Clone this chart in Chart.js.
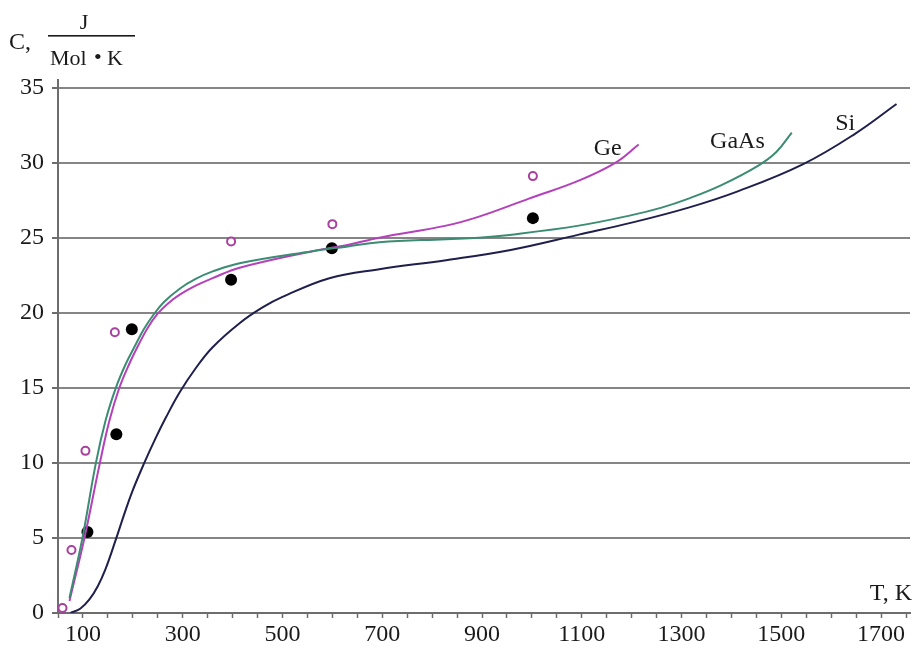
<!DOCTYPE html>
<html>
<head>
<meta charset="utf-8">
<script src="https://cdn.jsdelivr.net/npm/chart.js@4"></script>
<style>
  html, body { margin: 0; padding: 0; background: #fff; }
  #wrap { width: 916px; height: 648px; }
</style>
</head>
<body>
<div id="wrap"><canvas id="heatChart" width="916" height="648"></canvas></div>
<script>
// curves, T in K and C in J/(mol K)
const siT   = [75, 95, 113, 130, 145, 166, 182, 199, 223, 245, 266, 294, 326, 360, 414, 460, 500, 594, 694, 828, 960, 1094, 1200, 1314, 1414, 1544, 1647, 1731];
const siC   = [0, 0.3, 0.9, 1.8, 2.9, 4.9, 6.5, 8.1, 10, 11.6, 13.0, 14.7, 16.3, 17.7, 19.3, 20.35, 21.05, 22.3, 22.9, 23.5, 24.2, 25.2, 26.0, 27.0, 28.1, 29.9, 31.9, 33.9];
const gaasT = [73, 99, 126, 146, 166, 186, 206, 222, 240, 262, 294, 326, 360, 414, 560, 628, 694, 828, 894, 960, 1094, 1200, 1260, 1314, 1380, 1454, 1490, 1521];
const gaasC = [1.0, 5, 10, 12.9, 15, 16.6, 17.9, 18.9, 19.8, 20.7, 21.6, 22.25, 22.75, 23.3, 24.1, 24.4, 24.7, 24.9, 25.0, 25.2, 25.8, 26.5, 27.0, 27.6, 28.5, 29.8, 30.7, 32.0];
const geT   = [73, 103, 134, 153, 173, 193, 212, 230, 249, 270, 294, 326, 360, 414, 560, 628, 694, 828, 894, 994, 1094, 1168, 1214];
const geC   = [0.8, 5, 10, 12.8, 15, 16.6, 17.9, 19.0, 19.9, 20.6, 21.2, 21.8, 22.3, 23.0, 24.1, 24.5, 25.0, 25.8, 26.4, 27.6, 28.8, 30.0, 31.2];

// measured points
const openT  = [59, 77, 105, 164, 397, 600, 1002];
const openC  = [0.33, 4.2, 10.8, 18.7, 24.75, 25.9, 29.1];
const filledT = [109, 167, 198, 397, 599, 1002];
const filledC = [5.4, 11.9, 18.9, 22.2, 24.3, 26.3];

const xTickLabels = [100, 300, 500, 700, 900, 1100, 1300, 1500, 1700];
const yTicks = [0, 5, 10, 15, 20, 25, 30, 35];

const curveLabels = [
  { text: 'Ge',   x: 1152, y: 30.9 },
  { text: 'GaAs', x: 1412, y: 31.4 },
  { text: 'Si',   x: 1628, y: 32.6 }
];

const serif = '"Liberation Serif", "Times New Roman", serif';

function pts(xs, ys) { return xs.map((x, i) => ({ x: x, y: ys[i] })); }

function curve(label, xs, ys, color) {
  return {
    label: label,
    data: pts(xs, ys),
    showLine: true,
    borderColor: color,
    borderWidth: 2,
    pointRadius: 0,
    tension: 0.4,
    fill: false
  };
}

const textPlugin = {
  id: 'texts',
  afterDraw(chart) {
    const ctx = chart.ctx;
    const xs = chart.scales.x, ys = chart.scales.y;
    ctx.save();
    ctx.fillStyle = '#1a1a1a';
    ctx.textBaseline = 'alphabetic';
    ctx.textAlign = 'left';
    ctx.font = '24px ' + serif;
    ctx.fillText('C,', 9, 49);
    ctx.font = '22px ' + serif;
    ctx.textAlign = 'center';
    ctx.fillText('J', 84, 29);
    ctx.fillRect(48, 35, 87, 1.6);
    ctx.textAlign = 'left';
    ctx.fillText('Mol', 50, 65);
    ctx.fillText('•', 94, 64);
    ctx.fillText('K', 107, 65);
    // axis title
    ctx.font = '24px ' + serif;
    ctx.textAlign = 'right';
    ctx.fillText('T, K', 912, 600);
    // curve names
    ctx.textAlign = 'center';
    ctx.textBaseline = 'middle';
    curveLabels.forEach(l => {
      ctx.fillText(l.text, xs.getPixelForValue(l.x), ys.getPixelForValue(l.y));
    });
    ctx.restore();
  }
};

const ctx = document.getElementById('heatChart').getContext('2d');
new Chart(ctx, {
  type: 'scatter',
  data: {
    datasets: [
      curve('Si', siT, siC, '#1f1f4d'),
      curve('GaAs', gaasT, gaasC, '#3b8c73'),
      curve('Ge', geT, geC, '#b540bb'),
      {
        label: 'open',
        data: pts(openT, openC),
        pointRadius: 4,
        pointBorderWidth: 2,
        pointBorderColor: '#a8409f',
        pointBackgroundColor: '#ffffff'
      },
      {
        label: 'filled',
        data: pts(filledT, filledC),
        pointRadius: 6,
        pointBorderWidth: 0,
        pointBackgroundColor: '#000000',
        pointBorderColor: '#000000'
      }
    ]
  },
  options: {
    responsive: false,
    animation: false,
    layout: { padding: { top: 80, right: 4, left: 0, bottom: 0 } },
    plugins: {
      legend: { display: false },
      tooltip: { enabled: false }
    },
    scales: {
      x: {
        type: 'linear',
        min: 50,
        max: 1758,
        afterFit(scale) { scale.height = 35; },
        afterBuildTicks(scale) {
          const t = [];
          for (let v = 50; v <= 1750; v += 50) t.push({ value: v });
          scale.ticks = t;
        },
        grid: {
          drawOnChartArea: false,
          drawTicks: true,
          tickLength: 5,
          tickColor: '#6d6d6d',
          tickWidth: 1.5
        },
        border: { color: '#6d6d6d', width: 2 },
        ticks: {
          autoSkip: false,
          maxRotation: 0,
          padding: 2,
          color: '#1a1a1a',
          font: { family: serif, size: 24 },
          callback: v => xTickLabels.includes(v) ? String(v) : ''
        }
      },
      y: {
        type: 'linear',
        min: 0,
        max: 35.5,
        afterFit(scale) { scale.width = 58; },
        afterBuildTicks(scale) {
          scale.ticks = yTicks.map(v => ({ value: v }));
        },
        grid: {
          color: '#858585',
          lineWidth: 2,
          tickLength: 6,
          tickColor: '#6d6d6d'
        },
        border: { color: '#6d6d6d', width: 2 },
        ticks: {
          padding: 8,
          color: '#1a1a1a',
          font: { family: serif, size: 24 }
        }
      }
    }
  },
  plugins: [textPlugin]
});
</script>
</body>
</html>
